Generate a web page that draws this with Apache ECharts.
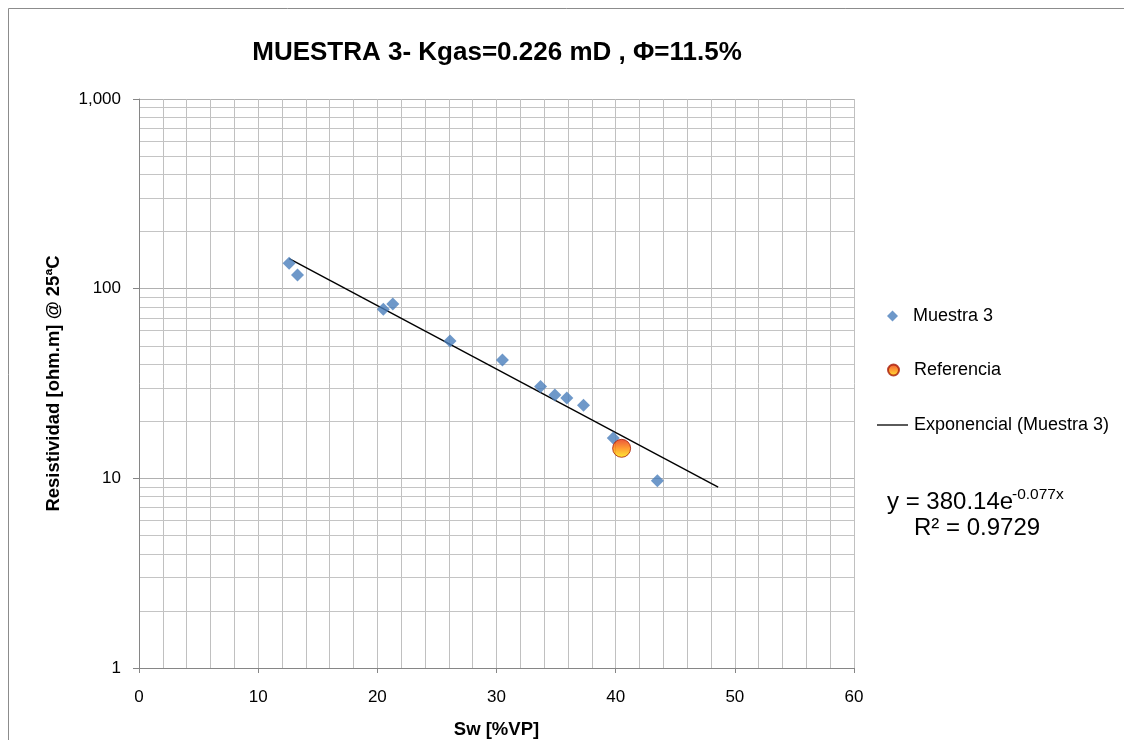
<!DOCTYPE html>
<html>
<head>
<meta charset="utf-8">
<script src="https://cdn.jsdelivr.net/npm/echarts@6/dist/echarts.min.js"></script>
<style>
  html, body { margin: 0; padding: 0; background: #ffffff; }
  #chart { width: 1124px; height: 740px; }
</style>
</head>
<body>
<div id="chart"></div>
<script>
// ---- Data ----
const muestraSw = [12.6, 13.3, 20.5, 21.3, 26.1, 30.5, 33.7, 34.9, 35.9, 37.3, 39.8, 43.5];
const muestraRes = [136, 118, 78, 83, 53, 42, 30.5, 27.5, 26.5, 24.3, 16.3, 9.7];
const referenciaSw = [40.5];
const referenciaRes = [14.4];
const trendSw = [12.6, 48.6];
const trendRes = [144, 9.0];
const xTicks = [0, 10, 20, 30, 40, 50, 60];
const yDecades = [1, 10, 100, 1000];
const yMinorGrid = [2, 3, 4, 5, 6, 7, 8, 9, 20, 30, 40, 50, 60, 70, 80, 90, 200, 300, 400, 500, 600, 700, 800, 900];

const titleText = 'MUESTRA 3- Kgas=0.226 mD , Φ=11.5%';
const xName = 'Sw [%VP]';
const yName = 'Resistividad [ohm.m] @ 25ªC';
const eqMain = 'y = 380.14e';
const eqExp = '-0.077x';
const eqR2 = 'R² = 0.9729';

const FONT = '"Liberation Sans", Arial, sans-serif';

const chart = echarts.init(document.getElementById('chart'), null, { renderer: 'canvas' });

const legendText = { fontFamily: FONT, fontSize: 18, color: '#000000' };

const option = {
  backgroundColor: '#ffffff',
  animation: false,
  title: {
    text: titleText,
    left: 492,
    top: 35,
    textAlign: 'center',
    textStyle: { fontFamily: FONT, fontSize: 26, fontWeight: 'bold', color: '#000000' }
  },
  grid: { left: 139, right: 270, top: 99, bottom: 72, containLabel: false, outerBoundsMode: 'none' },
  legend: [
    {
      left: 882, top: 302,
      itemWidth: 11, itemHeight: 11,
      textStyle: Object.assign({ padding: [0, 0, 0, 10] }, legendText),
      data: [{ name: 'Muestra 3', icon: 'diamond' }]
    },
    {
      left: 882, top: 356,
      itemWidth: 11, itemHeight: 11,
      textStyle: Object.assign({ padding: [0, 0, 0, 10] }, legendText),
      data: [{ name: 'Referencia', icon: 'circle' }]
    },
    {
      left: 872, top: 411,
      itemWidth: 31, itemHeight: 1.3,
      textStyle: Object.assign({ padding: [0, 0, 0, 1] }, legendText),
      data: [{ name: 'Exponencial (Muestra 3)', icon: 'rect', itemStyle: { color: '#000000' } }]
    }
  ],
  xAxis: {
    type: 'value',
    min: xTicks[0],
    max: xTicks[xTicks.length - 1],
    interval: 10,
    name: xName,
    nameLocation: 'middle',
    nameGap: 52,
    nameTextStyle: { fontFamily: FONT, fontSize: 18.5, fontWeight: 'bold', color: '#000000' },
    axisLine: { show: true, onZero: false, lineStyle: { color: '#868686', width: 1 } },
    axisTick: { show: true, length: 5, lineStyle: { color: '#868686' } },
    axisLabel: { margin: 21, fontFamily: FONT, fontSize: 17, color: '#000000' },
    splitLine: { show: true, lineStyle: { color: '#c0c0c0', width: 1 } },
    minorTick: { show: false, splitNumber: 5 },
    minorSplitLine: { show: true, lineStyle: { color: '#c0c0c0', width: 1 } }
  },
  yAxis: {
    type: 'log',
    logBase: 10,
    min: yDecades[0],
    max: yDecades[yDecades.length - 1],
    name: yName,
    nameLocation: 'middle',
    nameGap: 76,
    nameTextStyle: { fontFamily: FONT, fontSize: 18.5, fontWeight: 'bold', color: '#000000' },
    axisLine: { show: true, lineStyle: { color: '#868686', width: 1 } },
    axisTick: { show: true, length: 6, lineStyle: { color: '#868686' } },
    axisLabel: {
      margin: 18,
      fontFamily: FONT, fontSize: 17, color: '#000000',
      formatter: function (v) { return Math.round(v).toLocaleString('en-US'); }
    },
    splitLine: { show: true, lineStyle: { color: '#b0b0b0', width: 1 } },
    minorTick: { show: false },
    minorSplitLine: { show: false }
  },
  series: [
    {
      name: 'minorGrid',
      type: 'line',
      data: [],
      silent: true,
      legendHoverLink: false,
      z: 0,
      markLine: {
        silent: true,
        z: 0,
        symbol: ['none', 'none'],
        label: { show: false },
        animation: false,
        lineStyle: { color: '#c4c4c4', width: 1, type: 'solid' },
        emphasis: { disabled: true },
        data: yMinorGrid.map(function (v) { return { yAxis: v }; })
      }
    },
    {
      name: 'Exponencial (Muestra 3)',
      type: 'line',
      data: trendSw.map(function (x, i) { return [x, trendRes[i]]; }),
      symbol: 'none',
      showSymbol: false,
      lineStyle: { color: '#000000', width: 1.4 },
      itemStyle: { color: '#000000' },
      z: 10
    },
    {
      name: 'Muestra 3',
      type: 'scatter',
      data: muestraSw.map(function (x, i) { return [x, muestraRes[i]]; }),
      symbol: 'diamond',
      symbolSize: 13,
      itemStyle: { color: '#4A7EBB' },
      z: 11
    },
    {
      name: 'Referencia',
      type: 'scatter',
      data: referenciaSw.map(function (x, i) { return [x, referenciaRes[i]]; }),
      symbol: 'circle',
      symbolSize: 18,
      itemStyle: {
        color: new echarts.graphic.LinearGradient(0, 0, 0, 1, [
          { offset: 0, color: '#e52a0a' },
          { offset: 0.5, color: '#ff8400' },
          { offset: 1, color: '#ffe800' }
        ]),
        borderColor: '#a81a08',
        borderWidth: 1
      },
      z: 12
    }
  ],
  graphic: [
    {
      type: 'rect',
      shape: { x: 8.5, y: 8.5, width: 1300, height: 900 },
      style: { fill: 'none', stroke: '#8c8c8c', lineWidth: 1 },
      silent: true,
      z: -10
    },
    {
      type: 'text',
      x: 887, y: 502,
      style: { text: eqMain, fontFamily: FONT, fontSize: 24, fill: '#000000', textVerticalAlign: 'middle', textAlign: 'left' }
    },
    {
      type: 'text',
      x: 1012, y: 495,
      style: { text: eqExp, fontFamily: FONT, fontSize: 15.5, fill: '#000000', textVerticalAlign: 'middle', textAlign: 'left' }
    },
    {
      type: 'text',
      x: 914, y: 528,
      style: { text: eqR2, fontFamily: FONT, fontSize: 24, fill: '#000000', textVerticalAlign: 'middle', textAlign: 'left' }
    }
  ]
};

chart.setOption(option);
</script>
</body>
</html>
